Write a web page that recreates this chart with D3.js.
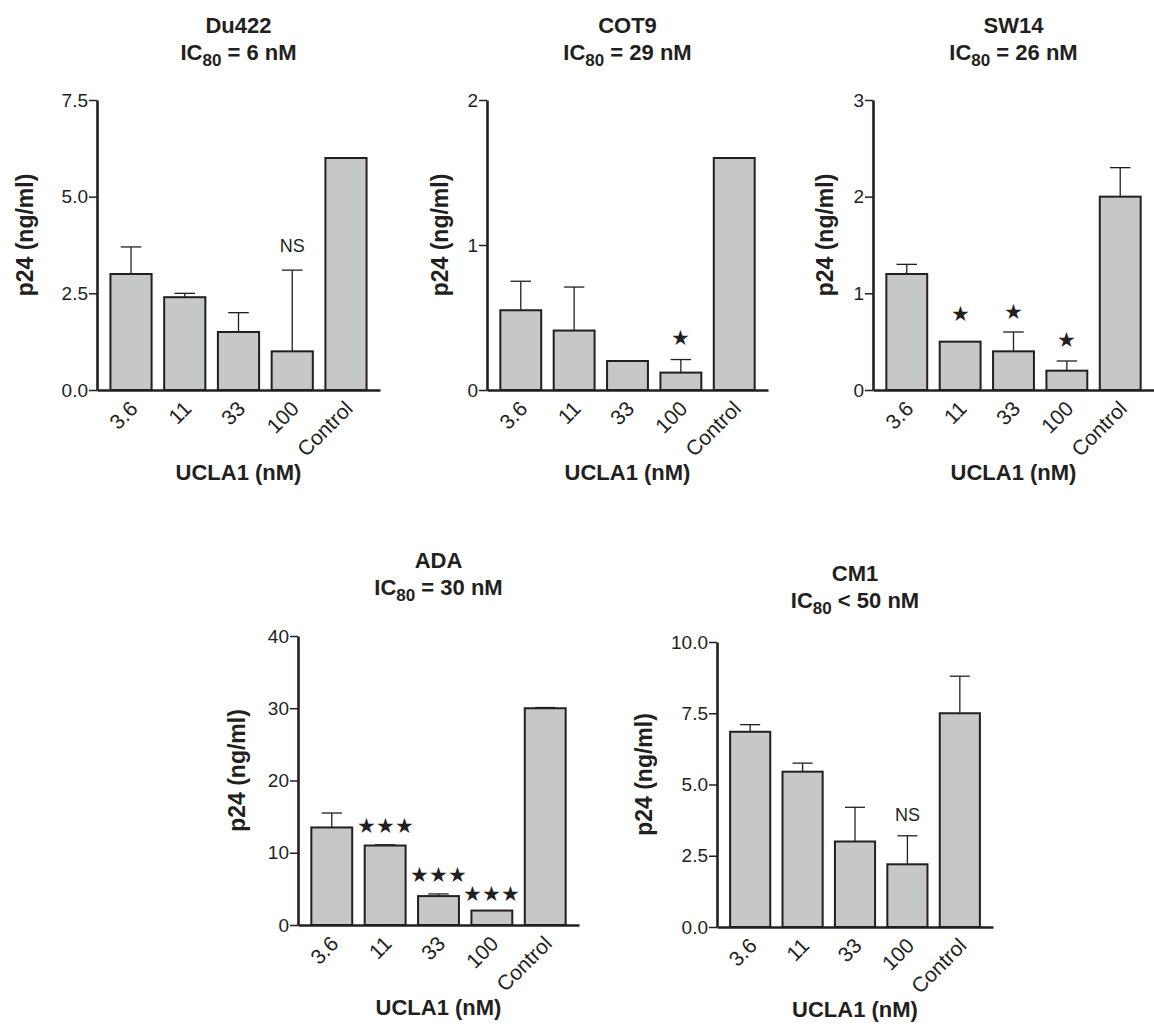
<!DOCTYPE html>
<html>
<head>
<meta charset="utf-8">
<script src="https://cdn.jsdelivr.net/npm/d3@7"></script>
<style>
  body { margin: 0; background: #fff; }
  svg { display: block; font-family: "Liberation Sans", Arial, Helvetica, sans-serif; }
  .tick text { font-size: 19px; fill: #231f20; }
  .xaxis .tick text { font-size: 21px; }
  .title, .axis-title { font-weight: bold; fill: #231f20; }
  .bar { fill: #c6c7c9; stroke: #231f20; stroke-width: 2; }
  .err { stroke: #231f20; stroke-width: 1.3; fill: none; }
</style>
</head>
<body>
<svg width="1154" height="1027"></svg>
<script>
// ---- data ----
var doses = ["3.6", "11", "33", "100", "Control"];

var strains   = ["Du422", "COT9", "SW14", "ADA", "CM1"];
var ic80Rel   = ["=", "=", "=", "=", "<"];
var ic80Val   = [6, 29, 26, 30, 50];

var yMax      = [7.5, 2, 3, 40, 10];
var yTicks    = [[0, 2.5, 5, 7.5], [0, 1, 2], [0, 1, 2, 3], [0, 10, 20, 30, 40], [0, 2.5, 5, 7.5, 10]];
var yFormat   = [".1f", "d", "d", "d", ".1f"];

var du422Mean = [3.0, 2.4, 1.5, 1.0, 6.0];
var du422Top  = [3.7, 2.5, 2.0, 3.1, null];
var cot9Mean  = [0.55, 0.41, 0.20, 0.12, 1.60];
var cot9Top   = [0.75, 0.71, null, 0.21, null];
var sw14Mean  = [1.2, 0.5, 0.4, 0.2, 2.0];
var sw14Top   = [1.3, null, 0.6, 0.3, 2.3];
var adaMean   = [13.5, 11.0, 4.0, 2.0, 30.0];
var adaTop    = [15.5, 11.1, 4.3, null, 30.1];
var cm1Mean   = [6.85, 5.45, 3.0, 2.2, 7.5];
var cm1Top    = [7.1, 5.75, 4.2, 3.2, 8.8];

// significance marks: [dose index, label, y value]
var du422Sig  = [[3, "NS", 3.72]];
var cot9Sig   = [[3, "★", 0.36]];
var sw14Sig   = [[1, "★", 0.79], [2, "★", 0.81], [3, "★", 0.52]];
var adaSig    = [[1, "★★★", 13.7], [2, "★★★", 7.0], [3, "★★★", 4.4]];
var cm1Sig    = [[3, "NS", 3.93]];

var means = [du422Mean, cot9Mean, sw14Mean, adaMean, cm1Mean];
var tops  = [du422Top, cot9Top, sw14Top, adaTop, cm1Top];
var sigs  = [du422Sig, cot9Sig, sw14Sig, adaSig, cm1Sig];

// ---- layout of the five panels ----
var layout = [
  {x: 97,  top: 100, bottom: 390, w: 283, ylab: 72, titleY: 25},
  {x: 487, top: 100, bottom: 390, w: 281, ylab: 47, titleY: 25},
  {x: 873, top: 100, bottom: 390, w: 281, ylab: 48, titleY: 25},
  {x: 298, top: 636, bottom: 925, w: 281, ylab: 61, titleY: 560},
  {x: 717, top: 642, bottom: 927, w: 276, ylab: 73, titleY: 573}
];

var svg = d3.select("svg");

strains.forEach(function(name, i) {
  var L = layout[i];
  var h = L.bottom - L.top;
  var g = svg.append("g").attr("transform", "translate(" + L.x + "," + L.top + ")");

  var x = d3.scaleBand().domain(doses).range([0, L.w]).paddingInner(0.234).paddingOuter(0.25);
  var y = d3.scaleLinear().domain([0, yMax[i]]).range([h, 0]);

  var rows = doses.map(function(d, k) { return {dose: d, mean: means[i][k], top: tops[i][k]}; });

  // error bars (upper only)
  var capW = x.bandwidth() * 0.5;
  var eb = g.selectAll(".eb").data(rows.filter(function(r) { return r.top != null; }))
    .enter().append("g").attr("class", "eb");
  eb.append("line").attr("class", "err")
    .attr("x1", function(r) { return x(r.dose) + x.bandwidth() / 2; })
    .attr("x2", function(r) { return x(r.dose) + x.bandwidth() / 2; })
    .attr("y1", function(r) { return y(r.mean); })
    .attr("y2", function(r) { return y(r.top); });
  eb.append("line").attr("class", "err")
    .attr("x1", function(r) { return x(r.dose) + x.bandwidth() / 2 - capW / 2; })
    .attr("x2", function(r) { return x(r.dose) + x.bandwidth() / 2 + capW / 2; })
    .attr("y1", function(r) { return y(r.top); })
    .attr("y2", function(r) { return y(r.top); });

  // bars
  g.selectAll(".bar").data(rows).enter().append("rect")
    .attr("class", "bar")
    .attr("x", function(r) { return x(r.dose); })
    .attr("width", x.bandwidth())
    .attr("y", function(r) { return y(r.mean); })
    .attr("height", function(r) { return h - y(r.mean); });

  // significance labels
  g.selectAll(".sig").data(sigs[i]).enter().append("text")
    .attr("class", "sig")
    .attr("x", function(s) { return x(doses[s[0]]) + x.bandwidth() / 2; })
    .attr("y", function(s) { return y(s[2]); })
    .attr("dy", "0.35em")
    .attr("text-anchor", "middle")
    .style("font-size", function(s) { return s[1] == "NS" ? "18px" : "21px"; })
    .style("fill", "#231f20")
    .text(function(s) { return s[1]; });

  // y axis
  var yAxis = g.append("g").call(d3.axisLeft(y).tickValues(yTicks[i])
      .tickFormat(d3.format(yFormat[i])).tickSize(8).tickSizeOuter(0).tickPadding(1));
  yAxis.select(".domain").attr("stroke", "#231f20").attr("stroke-width", 2.6);
  yAxis.selectAll(".tick line").attr("stroke", "#231f20").attr("stroke-width", 1.5);

  // x axis
  var xAxis = g.append("g").attr("class", "xaxis").attr("transform", "translate(0," + h + ")")
    .call(d3.axisBottom(x).tickSize(0).tickSizeOuter(0).tickPadding(0));
  xAxis.select(".domain").attr("stroke", "#231f20").attr("stroke-width", 2.6);
  xAxis.selectAll(".tick text")
    .attr("text-anchor", "end")
    .attr("dy", null)
    .attr("transform", "translate(8,20) rotate(-45)");

  // y title
  g.append("text").attr("class", "axis-title")
    .attr("transform", "translate(" + (-L.ylab) + "," + (h / 2 - 10) + ") rotate(-90)")
    .attr("text-anchor", "middle").attr("dy", "0.35em")
    .style("font-size", "23px")
    .text("p24 (ng/ml)");

  // x title
  g.append("text").attr("class", "axis-title")
    .attr("x", L.w / 2).attr("y", h + 82).attr("dy", "0.35em")
    .attr("text-anchor", "middle")
    .style("font-size", "22px")
    .text("UCLA1 (nM)");

  // panel title
  var ty = L.titleY - L.top;
  g.append("text").attr("class", "title")
    .attr("x", L.w / 2).attr("y", ty).attr("dy", "0.35em")
    .attr("text-anchor", "middle").style("font-size", "22px")
    .text(name);
  var t2 = g.append("text").attr("class", "title")
    .attr("x", L.w / 2).attr("y", ty + 27).attr("dy", "0.35em")
    .attr("text-anchor", "middle").style("font-size", "22px");
  t2.append("tspan").text("IC");
  t2.append("tspan").attr("dy", 6).style("font-size", "17px").text("80");
  t2.append("tspan").attr("dy", -6).text(" " + ic80Rel[i] + " " + ic80Val[i] + " nM");
});
</script>
</body>
</html>
